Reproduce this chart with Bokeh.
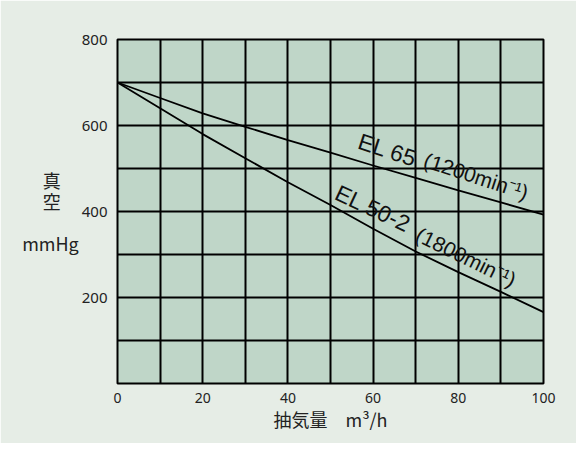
from bokeh.plotting import figure
from bokeh.models import FixedTicker, Range1d, Label
from bokeh.embed import file_html
from bokeh.resources import INLINE
import math

# data
flow = [0, 10, 20, 30, 40, 50, 60, 70, 80, 90, 100]
el65 = [700, 664, 628, 597, 566, 537, 507, 478, 449, 421, 393]
el502 = [700, 640, 580, 524, 468, 415, 360, 307, 259, 213, 166]
x_ticks = [0, 20, 40, 60, 80, 100]
y_ticks = [200, 400, 600, 800]
x_grid = [0, 10, 20, 30, 40, 50, 60, 70, 80, 90, 100]
y_grid = [0, 100, 200, 300, 400, 500, 600, 700, 800]

BG = "#e6ede6"
FRAME = "#bfd6c8"

p = figure(width=576, height=443, output_backend="svg", toolbar_location=None,
           x_range=Range1d(0, 100), y_range=Range1d(0, 800),
           min_border_left=117, min_border_right=33, min_border_top=39,
           min_border_bottom=60)
p.background_fill_color = FRAME
p.border_fill_color = BG
p.outline_line_color = "black"
p.outline_line_width = 2

p.xgrid.ticker = FixedTicker(ticks=x_grid)
p.ygrid.ticker = FixedTicker(ticks=y_grid)
for g in (p.xgrid, p.ygrid):
    g.grid_line_color = "black"
    g.grid_line_width = 2
    g.grid_line_alpha = 1.0

for ax in (p.xaxis, p.yaxis):
    ax.axis_line_color = None
    ax.major_tick_line_color = None
    ax.minor_tick_line_color = None
    ax.major_label_text_font = "Noto Sans"
    ax.major_label_text_color = "#222222"

p.xaxis.ticker = FixedTicker(ticks=x_ticks)
p.yaxis.ticker = FixedTicker(ticks=y_ticks)
p.xaxis.major_label_text_font_size = "14px"
p.yaxis.major_label_text_font_size = "15px"
p.xaxis.major_label_standoff = 3
p.yaxis.major_label_standoff = 4

p.xaxis.axis_label = "抽気量　m³/h"
p.xaxis.axis_label_text_font = "Noto Sans CJK JP"
p.xaxis.axis_label_text_font_size = "18px"
p.xaxis.axis_label_text_font_style = "normal"
p.xaxis.axis_label_text_color = "#222222"
p.xaxis.axis_label_standoff = 0

p.yaxis.axis_label = "真　\n空　\n\nmmHg"
p.yaxis.axis_label_orientation = "horizontal"
p.yaxis.axis_label_text_font = "Noto Sans CJK JP"
p.yaxis.axis_label_text_font_size = "18px"
p.yaxis.axis_label_text_font_style = "normal"
p.yaxis.axis_label_text_color = "#222222"
p.yaxis.axis_label_text_line_height = 0.8
p.yaxis.axis_label_standoff = 0

p.line(flow, el65, line_color="black", line_width=1.8)
p.line(flow, el502, line_color="black", line_width=1.8)

# curve labels
labels = [
    ("EL 65", 63.4, 543, -18, "23px"),
    ("(1200min⁻¹)", 84.2, 482, -18, "21px"),
    ("EL 50-2", 60.0, 407, -25, "23px"),
    ("(1800min⁻¹)", 81.8, 294, -26, "21px"),
]
for txt, xx, yy, ang, fs in labels:
    p.add_layout(Label(x=xx, y=yy, text=txt, angle=math.radians(ang),
                       text_font="Liberation Sans", text_font_size=fs,
                       text_align="center", text_baseline="middle", text_color="#111111"))

open("out.html", "w").write(file_html(p, INLINE))
